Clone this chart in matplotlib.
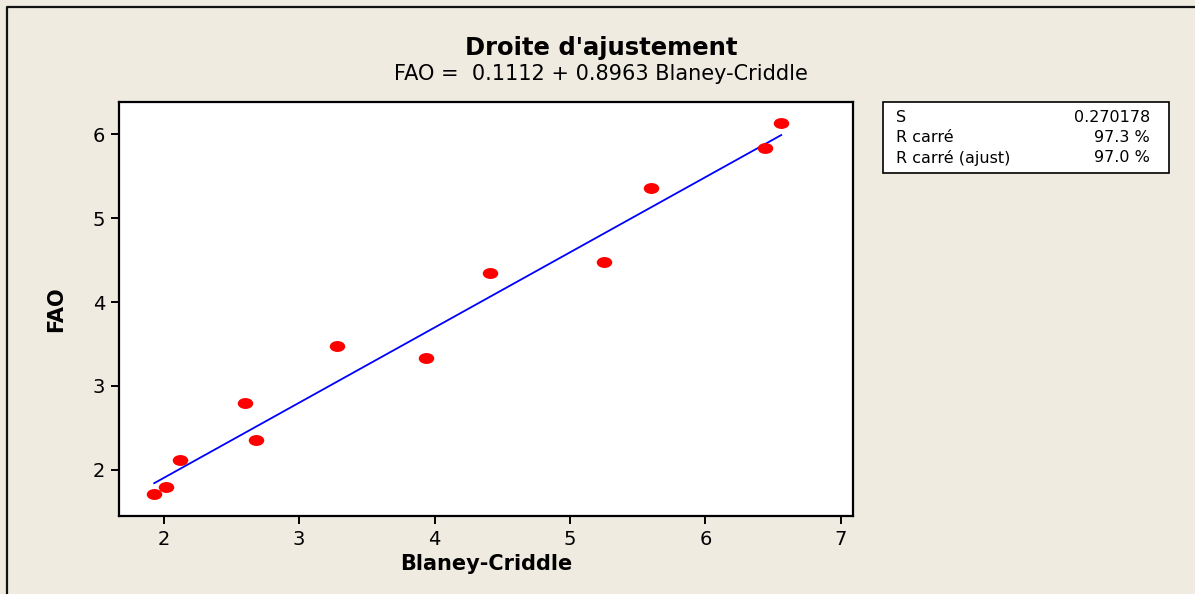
import matplotlib
matplotlib.use("Agg")
import matplotlib.pyplot as plt
import numpy as np
from matplotlib.lines import Line2D
from matplotlib.patches import Rectangle
from matplotlib.path import Path

# Blaney-Criddle vs FAO values
blaney = [1.93, 2.02, 2.12, 2.60, 2.68, 3.28, 3.94, 4.41, 5.25, 5.60, 6.44, 6.56]
fao = [1.71, 1.80, 2.12, 2.80, 2.36, 3.48, 3.33, 4.35, 4.48, 5.36, 5.84, 6.13]

# regression coefficients and fit summary
b0 = 0.1112
b1 = 0.8963
stats_names = ["S", "R carré", "R carré (ajust)"]
stats_vals = ["0.270178", "97.3 %", "97.0 %"]

W, H = 1195, 594
bg = "#efebe1"

fig = plt.figure(figsize=(W / 100, H / 100), dpi=100, facecolor=bg)
ax = fig.add_axes([119 / W, 1 - 516 / H, (853 - 119) / W, (516 - 102) / H])

# wide dot, like the original marker
circ = Path.unit_circle()
dot = Path(circ.vertices * np.array([1.42, 1.0]), circ.codes)

ax.scatter(blaney, fao, marker=dot, s=125, color="#ff0000", zorder=3, linewidths=0)
xs = np.array([min(blaney), max(blaney)])
ax.plot(xs, b0 + b1 * xs, color="#0000ff", lw=1.3, zorder=2)

ax.set_xlim(1.67, 7.09)
ax.set_ylim(1.45, 6.385)
ax.set_xticks([2, 3, 4, 5, 6, 7])
ax.set_yticks([2, 3, 4, 5, 6])
for s in ax.spines.values():
    s.set_linewidth(1.6)
ax.tick_params(direction="out", length=6, width=1.4, labelsize=14, pad=4)
ax.set_xlabel("Blaney-Criddle", fontsize=15, fontweight="bold", labelpad=4)
ax.set_ylabel("FAO", fontsize=15, fontweight="bold", labelpad=19)

fig.text(601 / W, 1 - 48 / H, "Droite d'ajustement", ha="center", va="center",
         fontsize=17.5, fontweight="bold")
fig.text(601 / W, 1 - 74 / H, "FAO =  0.1112 + 0.8963 Blaney-Criddle",
         ha="center", va="center", fontsize=15)

# summary box
fig.add_artist(Rectangle((883 / W, 1 - 173 / H), (1169 - 883) / W, (173 - 102) / H,
                         transform=fig.transFigure, facecolor="white",
                         edgecolor="black", lw=1.2))
for i, (n, v) in enumerate(zip(stats_names, stats_vals)):
    yy = 1 - (117 + i * 20.5) / H
    fig.text(896 / W, yy, n, ha="left", va="center", fontsize=11.5)
    fig.text(1150 / W, yy, v, ha="right", va="center", fontsize=11.5)

# outer frame (left and top)
fig.add_artist(Line2D([7 / W, 7 / W, 1], [0, 1 - 6.5 / H, 1 - 6.5 / H],
                      transform=fig.transFigure, color="#111111", lw=1.6))

fig.savefig("out.png", dpi=100, facecolor=bg)
